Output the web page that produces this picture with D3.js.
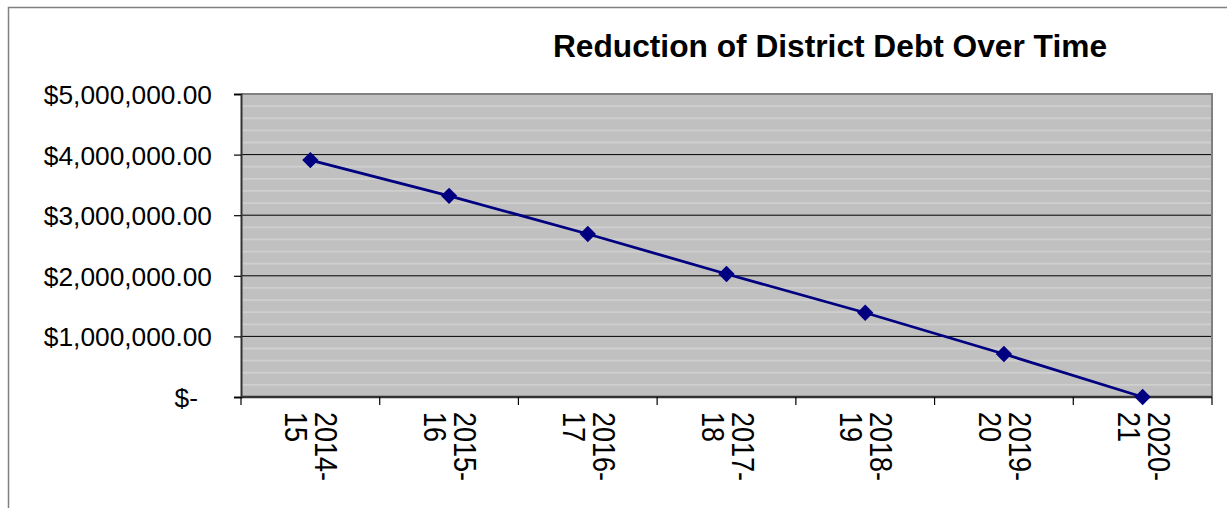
<!DOCTYPE html>
<html lang="en">

<head>
    <meta charset="UTF-8">
    <title>Reduction of District Debt Over Time</title>
    <script src="https://d3js.org/d3.v7.min.js"></script>
    <style>
        body {
            margin: 0;
            padding: 0;
            background-color: #fff;
            font-family: 'Liberation Sans', Arial, sans-serif;
        }

        svg {
            display: block;
        }

        .title {
            font-size: 31.7px;
            font-weight: bold;
            fill: #000;
        }

        .ylab {
            font-size: 26.3px;
            fill: #000;
        }

        .xlab {
            font-size: 27px;
            fill: #000;
        }
    </style>
</head>

<body>
    <svg id="chart" width="1227" height="508"></svg>

    <script>
        // Data
        const years = ["2014-15", "2015-16", "2016-17", "2017-18", "2018-19", "2019-20", "2020-21"];
        const debt = [3910000, 3320000, 2690000, 2030000, 1390000, 710000, 0];
        const yTicks = [0, 1000000, 2000000, 3000000, 4000000, 5000000];
        const yTickLabels = ["$-", "$1,000,000.00", "$2,000,000.00", "$3,000,000.00", "$4,000,000.00", "$5,000,000.00"];

        const data = years.map((y, i) => ({ year: y, value: debt[i] }));

        const svg = d3.select("#chart");

        // outer chart border
        svg.append("rect")
            .attr("x", 8.5).attr("y", 7.5)
            .attr("width", 1240).attr("height", 520)
            .attr("fill", "#fff")
            .attr("stroke", "#808080")
            .attr("stroke-width", 1.5);

        const plot = { left: 241, right: 1212, top: 94, bottom: 397 };

        const x = d3.scaleBand()
            .domain(years)
            .range([plot.left, plot.right]);

        const y = d3.scaleLinear()
            .domain([0, 5000000])
            .range([plot.bottom, plot.top]);

        // plot area background
        svg.append("rect")
            .attr("x", plot.left).attr("y", plot.top)
            .attr("width", plot.right - plot.left)
            .attr("height", plot.bottom - plot.top)
            .attr("fill", "#c0c0c0");

        // minor gridlines (every 200k)
        const minor = d3.range(200000, 5000000, 200000).filter(v => v % 1000000 !== 0);
        svg.append("g")
            .selectAll("line")
            .data(minor)
            .join("line")
            .attr("x1", plot.left).attr("x2", plot.right)
            .attr("y1", d => y(d)).attr("y2", d => y(d))
            .attr("stroke", "#cfcfcf")
            .attr("stroke-width", 1.8);

        // major gridlines
        svg.append("g")
            .selectAll("line")
            .data(yTicks.filter(v => v > 0 && v < 5000000))
            .join("line")
            .attr("x1", plot.left).attr("x2", plot.right)
            .attr("y1", d => y(d)).attr("y2", d => y(d))
            .attr("stroke", "#000")
            .attr("stroke-width", 1);

        // plot border top / right
        svg.append("path")
            .attr("d", `M${plot.left},${plot.top}H${plot.right}V${plot.bottom}`)
            .attr("fill", "none")
            .attr("stroke", "#808080")
            .attr("stroke-width", 2);

        // y axis
        const yAxis = svg.append("g")
            .attr("transform", `translate(${plot.left},0)`)
            .call(d3.axisLeft(y)
                .tickValues(yTicks)
                .tickSize(7)
                .tickPadding(22)
                .tickFormat((d, i) => yTickLabels[i]));
        yAxis.select(".domain").attr("stroke", "#333").attr("stroke-width", 2);
        yAxis.selectAll(".tick line").attr("stroke", "#000").attr("stroke-width", 1.2);
        yAxis.selectAll(".tick text")
            .attr("class", "ylab")
            .attr("font-family", null)
            .attr("font-size", null)
            .attr("dy", "0.36em")
            .attr("dx", (d, i) => i === 0 ? -14 : 0);

        // x axis: ticks on band boundaries
        const xAxis = svg.append("g")
            .attr("transform", `translate(0,${plot.bottom})`);
        xAxis.append("line")
            .attr("x1", plot.left).attr("x2", plot.right)
            .attr("stroke", "#333").attr("stroke-width", 2.5);
        const bounds = years.map(d => x(d)).concat([plot.right]);
        xAxis.selectAll("line.tk")
            .data(bounds)
            .join("line")
            .attr("class", "tk")
            .attr("x1", d => d).attr("x2", d => d)
            .attr("y1", 0).attr("y2", 8)
            .attr("stroke", "#000").attr("stroke-width", 1.2);

        // x labels, rotated, split at the hyphen
        const xl = xAxis.selectAll("text")
            .data(years)
            .join("text")
            .attr("class", "xlab")
            .attr("transform", d => `translate(${x(d) + x.bandwidth() / 2},15) rotate(90) scale(1,1.13)`);
        xl.append("tspan")
            .attr("x", 0).attr("y", -4.5)
            .text(d => d.split("-")[0] + "-");
        xl.append("tspan")
            .attr("x", 0).attr("y", 22)
            .text(d => d.split("-")[1]);

        // line
        svg.append("path")
            .datum(data)
            .attr("fill", "none")
            .attr("stroke", "#000080")
            .attr("stroke-width", 2.8)
            .attr("d", d3.line()
                .x(d => x(d.year) + x.bandwidth() / 2)
                .y(d => y(d.value)));

        // diamond markers
        svg.append("g")
            .selectAll("path")
            .data(data)
            .join("path")
            .attr("transform", d => `translate(${x(d.year) + x.bandwidth() / 2},${y(d.value)})`)
            .attr("d", d3.symbol().type(d3.symbolDiamond2).size(170))
            .attr("fill", "#000080");

        // title
        svg.append("text")
            .attr("class", "title")
            .attr("x", 830)
            .attr("y", 57)
            .attr("text-anchor", "middle")
            .text("Reduction of District Debt Over Time");
    </script>
</body>

</html>
